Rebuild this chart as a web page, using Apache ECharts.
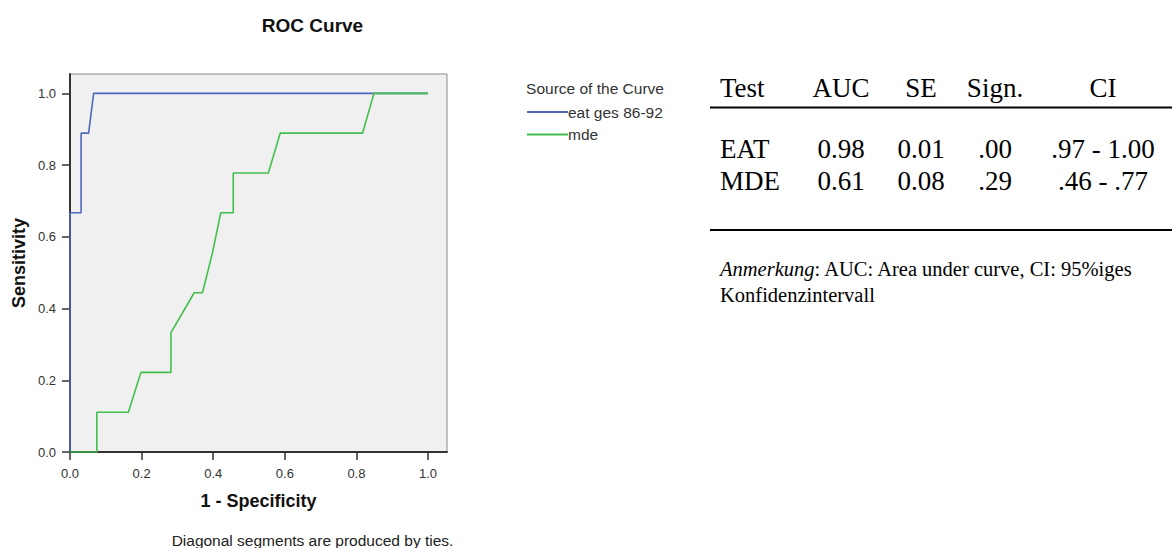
<!DOCTYPE html>
<html>
<head>
<meta charset="utf-8">
<script src="https://cdn.jsdelivr.net/npm/echarts@6/dist/echarts.min.js"></script>
<style>
  html, body { margin: 0; padding: 0; background: #fff; }
  #chart { width: 1172px; height: 548px; }
</style>
</head>
<body>
<div id="chart"></div>
<script>
// ROC curve points (1 - specificity, sensitivity)
const eatX = [0, 0, 0.031, 0.031, 0.052, 0.066, 1.0];
const eatY = [0, 0.667, 0.667, 0.889, 0.889, 1.0, 1.0];
const mdeX = [0, 0.075, 0.075, 0.163, 0.198, 0.282, 0.282, 0.347, 0.370, 0.398, 0.421, 0.456, 0.456, 0.554, 0.587, 0.817, 0.849, 1.0];
const mdeY = [0, 0, 0.111, 0.111, 0.222, 0.222, 0.333, 0.444, 0.444, 0.556, 0.667, 0.667, 0.778, 0.778, 0.889, 0.889, 1.0, 1.0];
const seriesNames = ['eat ges 86-92', 'mde'];
const axisTicks = [0, 0.2, 0.4, 0.6, 0.8, 1.0];

// AUC summary table
const tableHeader = ['Test', 'AUC', 'SE', 'Sign.', 'CI'];
const tableRows = [
  ['EAT', '0.98', '0.01', '.00', '.97 - 1.00'],
  ['MDE', '0.61', '0.08', '.29', '.46 - .77']
];
const noteLabel = 'Anmerkung';
const noteText = ': AUC: Area under curve, CI: 95%iges';
const noteText2 = 'Konfidenzintervall';

const pairs = (xs, ys) => xs.map((x, i) => [x, ys[i]]);

const sans = '"Liberation Sans", Arial, sans-serif';
const serif = '"Liberation Serif", "Times New Roman", serif';

// table layout: first column left-aligned, others centred
const colX = [720, 841, 921, 995, 1103];
const colAlign = ['left', 'center', 'center', 'center', 'center'];
const rowY = [101, 162, 194];

const tableGraphics = [];
[tableHeader, ...tableRows].forEach((row, r) => {
  row.forEach((txt, c) => {
    tableGraphics.push({
      type: 'text', x: colX[c], y: rowY[r],
      style: { text: txt, font: '27px ' + serif, fill: '#000', textAlign: colAlign[c], textVerticalAlign: 'bottom' }
    });
  });
});
tableGraphics.push(
  { type: 'line', shape: { x1: 710, y1: 107.5, x2: 1172, y2: 107.5 }, style: { stroke: '#000', lineWidth: 2 } },
  { type: 'line', shape: { x1: 710, y1: 230, x2: 1172, y2: 230 }, style: { stroke: '#000', lineWidth: 2 } },
  {
    type: 'text', x: 720, y: 279,
    style: {
      text: '{i|' + noteLabel + '}{n|' + noteText + '}',
      textVerticalAlign: 'bottom',
      rich: {
        i: { font: 'italic 20.5px ' + serif, fill: '#000' },
        n: { font: '20.5px ' + serif, fill: '#000' }
      }
    }
  },
  { type: 'text', x: 720, y: 305, style: { text: noteText2, font: '20.5px ' + serif, fill: '#000', textVerticalAlign: 'bottom' } }
);

const chart = echarts.init(document.getElementById('chart'), null, { renderer: 'svg' });

chart.setOption({
  animation: false,
  backgroundColor: '#fff',
  grid: {
    left: 70, top: 74, width: 377, height: 378,
    show: true, backgroundColor: '#f0f0f0', borderColor: '#8a8a8a', borderWidth: 1
  },
  xAxis: {
    type: 'value', min: 0, max: 1.053,
    name: '1 - Specificity', nameLocation: 'middle', nameGap: 40,
    nameTextStyle: { fontFamily: sans, fontSize: 18, fontWeight: 'bold', color: '#111' },
    axisLine: { show: true, lineStyle: { color: '#333', width: 2 } },
    axisTick: { show: true, length: 8, customValues: axisTicks, lineStyle: { color: '#333', width: 1.5 } },
    axisLabel: {
      customValues: axisTicks, margin: 15,
      formatter: v => v.toFixed(1),
      fontFamily: sans, fontSize: 13, color: '#333'
    },
    splitLine: { show: false }
  },
  yAxis: {
    type: 'value', min: 0, max: 1.054,
    name: 'Sensitivity', nameLocation: 'middle', nameGap: 42, nameRotate: 90,
    nameTextStyle: { fontFamily: sans, fontSize: 18, fontWeight: 'bold', color: '#111' },
    axisLine: { show: true, lineStyle: { color: '#333', width: 2 } },
    axisTick: { show: true, length: 8, customValues: axisTicks, lineStyle: { color: '#333', width: 1.5 } },
    axisLabel: {
      customValues: axisTicks, margin: 14,
      formatter: v => v.toFixed(1),
      fontFamily: sans, fontSize: 13, color: '#333'
    },
    splitLine: { show: false }
  },
  legend: {
    orient: 'vertical', left: 522, top: 98,
    icon: 'rect', itemWidth: 41, itemHeight: 1.8, itemGap: 4.5,
    data: seriesNames,
    textStyle: { fontFamily: sans, fontSize: 15.5, lineHeight: 18, color: '#333', padding: [0, 0, 0, -5] }
  },
  series: [
    {
      name: seriesNames[0], type: 'line', data: pairs(eatX, eatY),
      symbol: 'none', lineStyle: { color: '#4f67bd', width: 1.6 }, itemStyle: { color: '#4f67bd' }
    },
    {
      name: seriesNames[1], type: 'line', data: pairs(mdeX, mdeY),
      symbol: 'none', lineStyle: { color: '#40bf4c', width: 1.6 }, itemStyle: { color: '#40bf4c' }
    }
  ],
  graphic: [
    { type: 'text', x: 312.5, y: 25, style: { text: 'ROC Curve', font: 'bold 19px ' + sans, fill: '#111', textAlign: 'center', textVerticalAlign: 'middle' } },
    { type: 'text', x: 595, y: 88, style: { text: 'Source of the Curve', font: '15.5px ' + sans, fill: '#333', textAlign: 'center', textVerticalAlign: 'middle' } },
    { type: 'text', x: 312.5, y: 540, style: { text: 'Diagonal segments are produced by ties.', font: '15.5px ' + sans, fill: '#222', textAlign: 'center', textVerticalAlign: 'middle' } },
    ...tableGraphics
  ]
});
</script>
</body>
</html>
